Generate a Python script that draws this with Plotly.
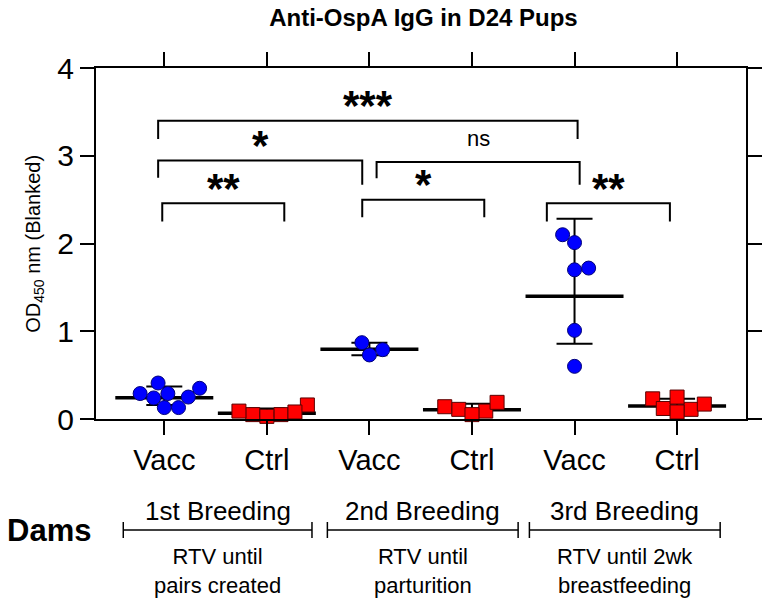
import numpy as np
import plotly.graph_objects as go

# ---------------- data ----------------
categories = ["Vacc", "Ctrl", "Vacc", "Ctrl", "Vacc", "Ctrl"]
vacc_1st = [0.35, 0.41, 0.29, 0.24, 0.25, 0.29, 0.13, 0.13]
ctrl_1st = [0.05, 0.16, 0.05, 0.09, 0.03, 0.08]
vacc_2nd = [0.73, 0.87, 0.79]
ctrl_2nd = [0.09, 0.19, 0.11, 0.14, 0.05]
vacc_3rd = [2.01, 2.10, 1.70, 1.72, 1.01, 0.60]
ctrl_3rd = [0.11, 0.23, 0.12, 0.17, 0.25, 0.08]
y_tick_values = [0, 1, 2, 3, 4]
y_tick_labels = ["0", "1", "2", "3", "4"]

breeding_labels = ["1st Breeding", "2nd Breeding", "3rd Breeding"]
regimen_labels = ["RTV until<br>pairs created", "RTV until<br>parturition",
                  "RTV until 2wk<br>breastfeeding"]
# bracket spans (category units) for each breeding
breeding_left = [-0.40, 1.59, 3.56]
breeding_right = [1.44, 3.45, 5.42]

# significance comparisons: label, left x, right x, bar y, left leg end, right leg end
comp_labels = ["***", "*", "ns", "**", "*", "**"]
comp_left = [-0.06, -0.06, 2.07, -0.02, 1.93, 3.73]
comp_right = [4.03, 1.93, 4.05, 1.17, 3.12, 4.93]
comp_bar = [3.40, 2.945, 2.93, 2.46, 2.50, 2.46]
comp_leg_l = [3.19, 2.75, 2.745, 2.25, 2.30, 2.25]
comp_leg_r = [3.19, 2.67, 2.67, 2.25, 2.30, 2.25]

groups = [vacc_1st, ctrl_1st, vacc_2nd, ctrl_2nd, vacc_3rd, ctrl_3rd]

# ---------------- layout constants ----------------
W, H = 774, 598
ML, MR, MT, MB = 96, 15, 68, 179
XR = [-0.666, 5.672]
YR = [0, 4]
PX_X = (W - ML - MR) / (XR[1] - XR[0])
PX_Y = (H - MT - MB) / (YR[1] - YR[0])
MSIZE = 14
FONT = "Liberation Sans, Arial, sans-serif"


def swarm(vals, diam):
    """simple beeswarm: horizontal pixel offsets avoiding overlap"""
    placed = []
    offs = [0.0] * len(vals)
    order = sorted(range(len(vals)), key=lambda i: vals[i])
    side = 1
    for i in order:
        y = vals[i] * PX_Y
        cands = [0.0]
        for (px, py) in placed:
            dy = abs(y - py)
            if dy < diam:
                dx = (diam ** 2 - dy ** 2) ** 0.5
                cands += [px + dx, px - dx]
        valid = [c for c in cands
                 if all((c - px) ** 2 + (y - py) ** 2 >= diam ** 2 - 1e-6 for px, py in placed)]
        best = min(valid, key=lambda c: (round(abs(c), 3), -side * c))
        if best != 0:
            side = -side
        placed.append((best, y))
        offs[i] = best
    return [o / PX_X for o in offs]


fig = go.Figure()

# geometric mean with geometric SD
for k, vals in enumerate(groups):
    lv = np.log(np.array(vals))
    gm = float(np.exp(lv.mean()))
    gsd = float(np.exp(lv.std(ddof=1)))
    fig.add_trace(go.Scatter(
        x=[k], y=[gm], mode="markers",
        marker=dict(symbol="line-ew", size=70, color="black",
                    line=dict(width=3.5, color="black")),
        error_y=dict(type="data", symmetric=False,
                     array=[gm * gsd - gm], arrayminus=[gm - gm / gsd],
                     color="black", thickness=2, width=18),
        cliponaxis=False, showlegend=False, hoverinfo="skip"))

# individual points
for k, vals in enumerate(groups):
    offs = swarm(vals, MSIZE + 0.5)
    vacc = (k % 2 == 0)
    fig.add_trace(go.Scatter(
        x=[k + o for o in offs], y=vals, mode="markers",
        marker=dict(symbol="circle" if vacc else "square",
                    size=MSIZE,
                    color="#0000FF" if vacc else "#FF0000",
                    line=dict(width=1, color="#00007A" if vacc else "#5A0000")),
        cliponaxis=False, showlegend=False))

shapes = []
annotations = []

# significance brackets
for lab, xl, xr, yb, yl, yr in zip(comp_labels, comp_left, comp_right, comp_bar,
                                   comp_leg_l, comp_leg_r):
    shapes.append(dict(type="path", xref="x", yref="y",
                       path=f"M {xl},{yl} L {xl},{yb} L {xr},{yb} L {xr},{yr}",
                       line=dict(color="black", width=2)))
    star = lab != "ns"
    annotations.append(dict(
        x=(xl + xr) / 2, y=yb + (0.17 if star else 0.27), xref="x", yref="y",
        text=f"<b>{lab}</b>" if star else lab, showarrow=False,
        font=dict(family=FONT, size=42 if star else 22, color="black"),
        xanchor="center", yanchor="middle"))

# breeding brackets + labels (below the axis)
PH = H - MT - MB
def py(pix):
    return (H - MB - pix) / PH

ybr = py(530)
for bl, br, lab, reg in zip(breeding_left, breeding_right, breeding_labels, regimen_labels):
    shapes.append(dict(type="line", xref="x", yref="paper", x0=bl, x1=br, y0=ybr, y1=ybr,
                       line=dict(color="black", width=1.5)))
    for xe in (bl, br):
        shapes.append(dict(type="line", xref="x", yref="paper", x0=xe, x1=xe,
                           y0=py(522), y1=py(538), line=dict(color="black", width=1.5)))
    cx = (bl + br) / 2
    annotations.append(dict(x=cx, y=py(511), xref="x", yref="paper", text=lab,
                            showarrow=False, xanchor="center", yanchor="middle",
                            font=dict(family=FONT, size=26, color="black")))
    annotations.append(dict(x=cx, y=py(571), xref="x", yref="paper", text=reg,
                            showarrow=False, xanchor="center", yanchor="middle",
                            font=dict(family=FONT, size=22, color="black")))

annotations.append(dict(x=(48 - ML) / (W - ML - MR), y=py(530), xref="paper", yref="paper",
                        text="<b>Dams</b>", showarrow=False, xanchor="center", yanchor="middle",
                        font=dict(family=FONT, size=31, color="black")))

# y-axis title
annotations.append(dict(x=(33 - ML) / (W - ML - MR), y=0.5, xref="paper", yref="paper",
                        text="OD<sub>450</sub> nm (Blanked)", textangle=-90, showarrow=False,
                        xanchor="center", yanchor="middle",
                        font=dict(family=FONT, size=20, color="black")))

axis_common = dict(showline=True, linewidth=2, linecolor="black", mirror="ticks",
                   ticks="outside", ticklen=14, tickwidth=2, tickcolor="black",
                   showgrid=False, zeroline=False)

fig.update_layout(
    width=W, height=H,
    margin=dict(l=ML, r=MR, t=MT, b=MB),
    paper_bgcolor="white", plot_bgcolor="white",
    title=dict(text="<b>Anti-OspA IgG in D24 Pups</b>", x=(430 - ML) / (W - ML - MR),
               xref="paper", y=1 - 18 / H, yref="container", xanchor="center",
               yanchor="middle", font=dict(family=FONT, size=24, color="black")),
    xaxis=dict(range=XR, tickvals=list(range(len(categories))), ticktext=categories,
               tickfont=dict(family=FONT, size=29, color="black"), **axis_common),
    yaxis=dict(range=YR, tickvals=y_tick_values, ticktext=y_tick_labels,
               tickfont=dict(family=FONT, size=30, color="black"), **axis_common),
    shapes=shapes, annotations=annotations, showlegend=False,
)

fig.write_html("out.html", config={"displayModeBar": False},
               post_script="document.body.style.margin='0';document.body.style.padding='0';"
                           "document.documentElement.style.overflow='hidden';")
